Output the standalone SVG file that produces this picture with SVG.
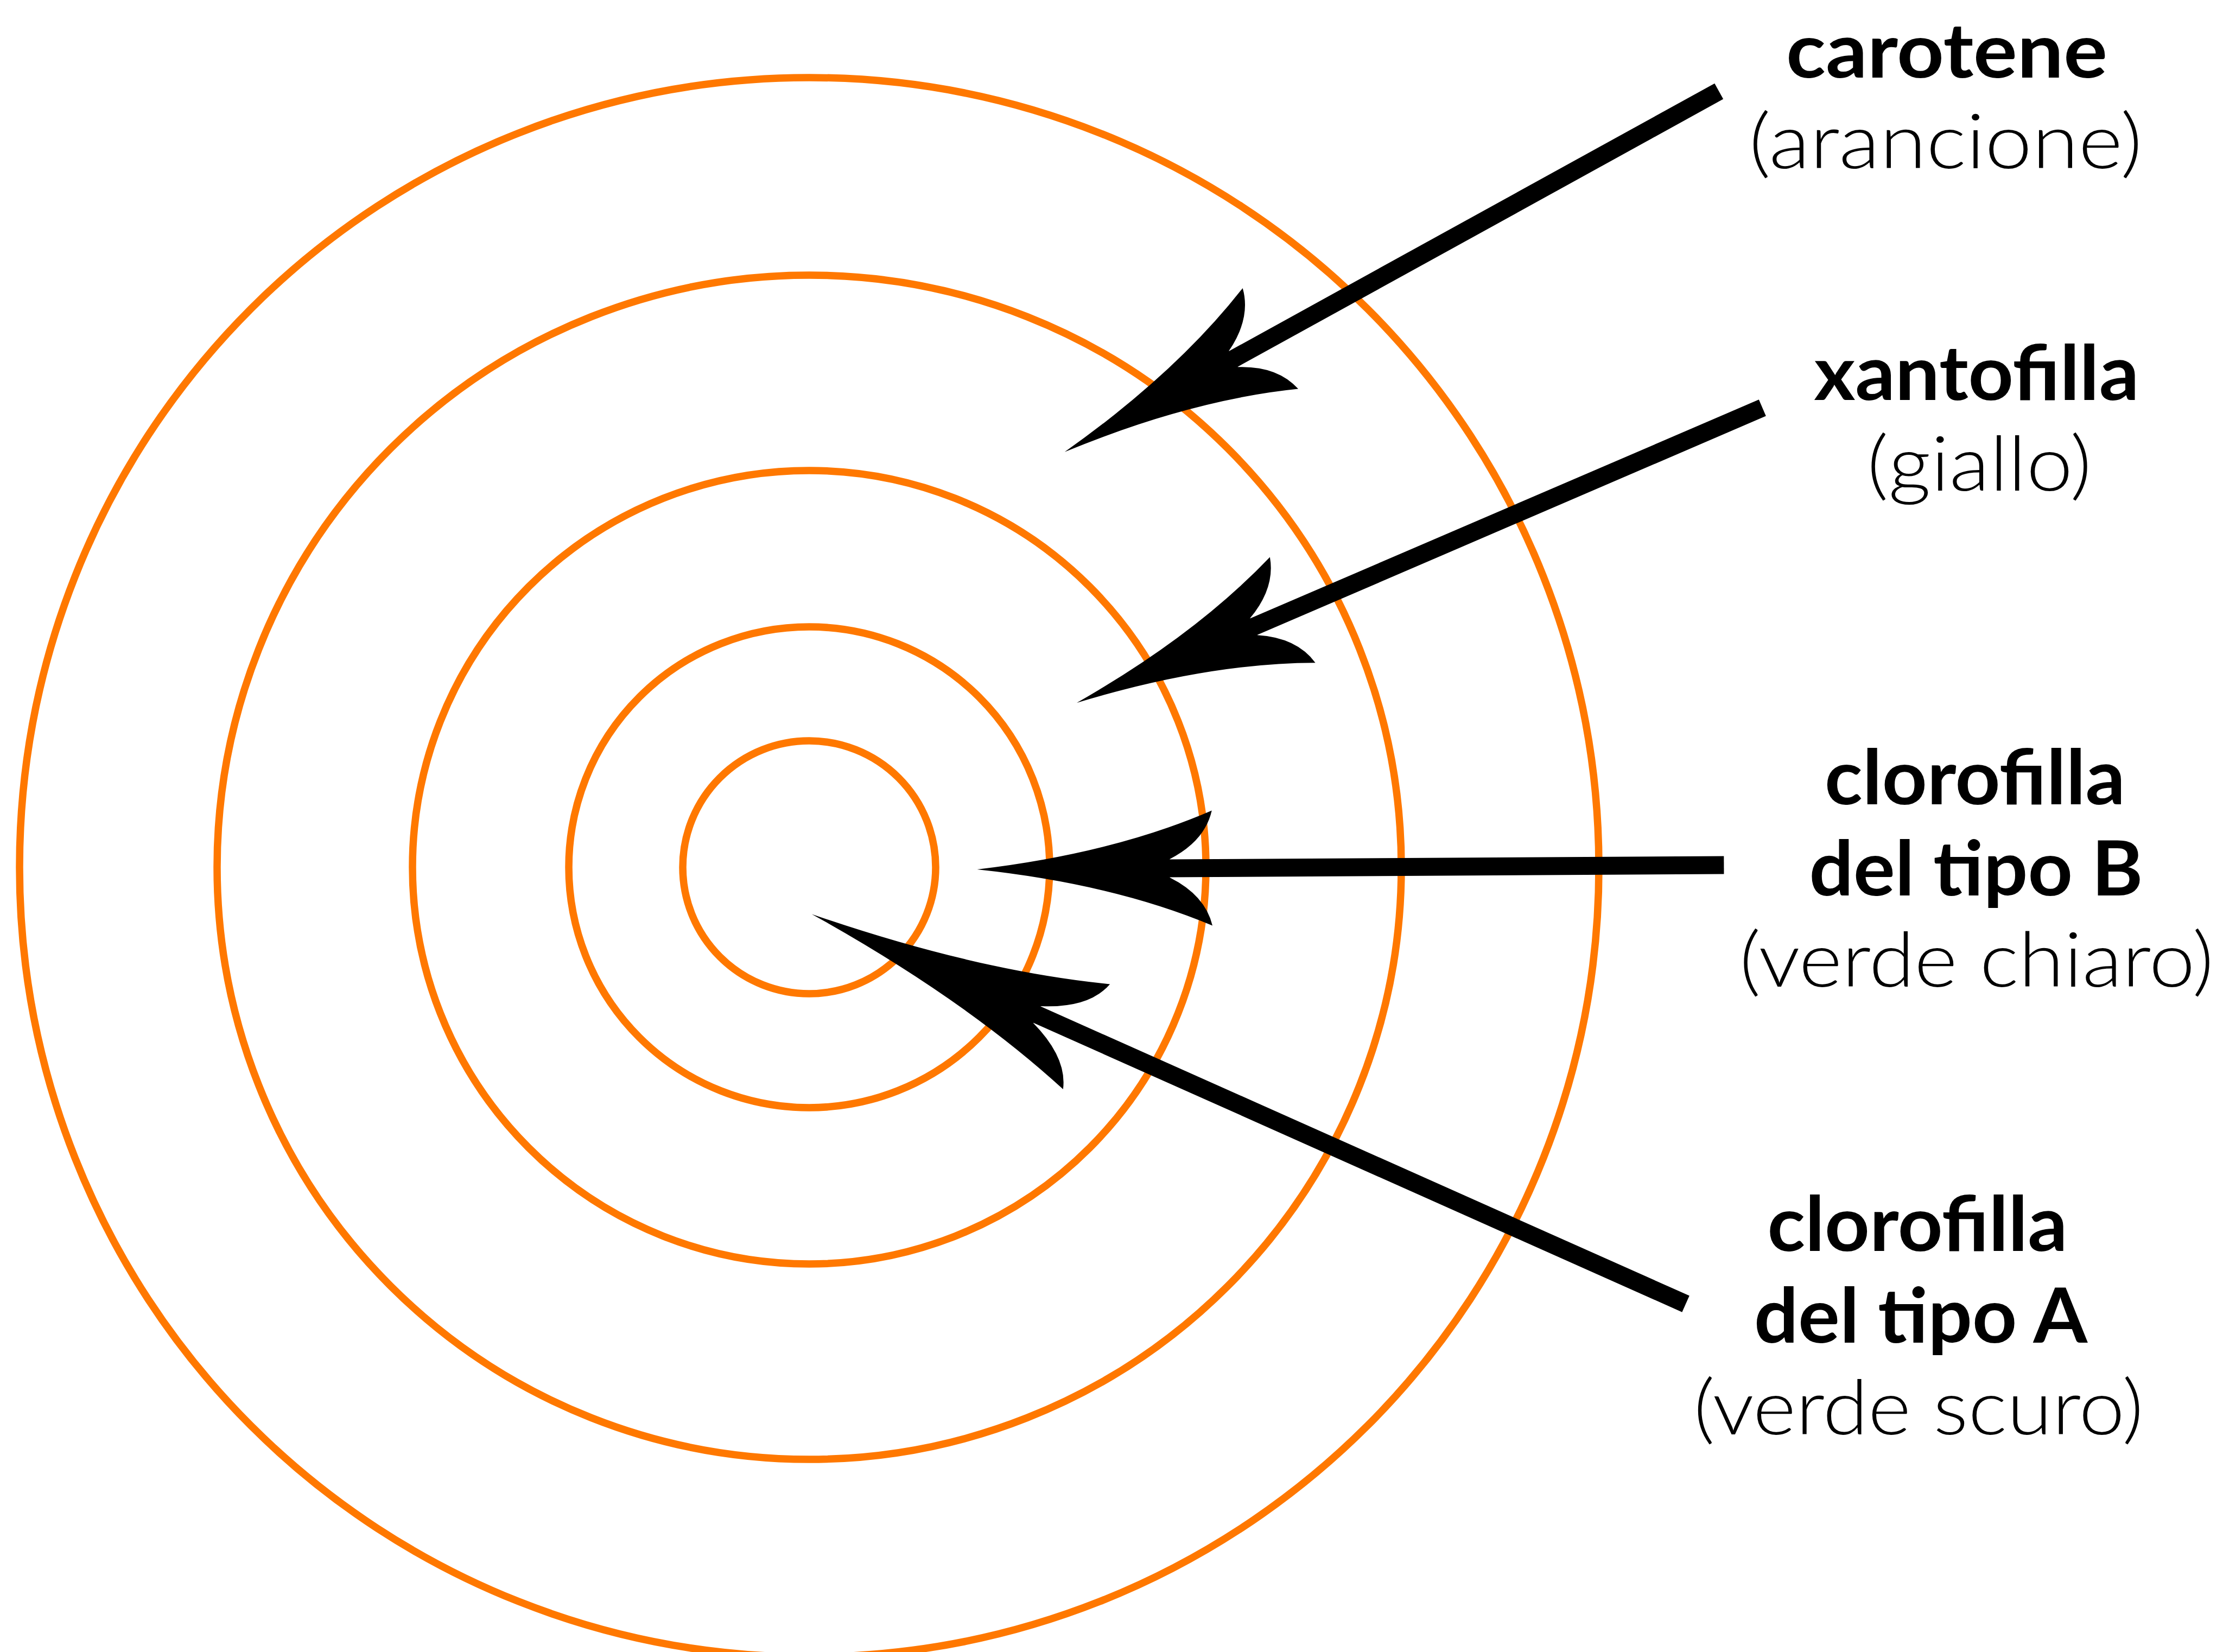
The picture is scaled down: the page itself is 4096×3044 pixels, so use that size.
<svg xmlns="http://www.w3.org/2000/svg" xmlns:xlink="http://www.w3.org/1999/xlink" width="4096" height="3044" viewBox="0 0 4096 3044">
  <style>
    .ring { fill: none; stroke: #ff7800; stroke-width: 13.5; }
    .shaft { stroke: #000; stroke-width: 33; stroke-linecap: butt; fill: none; }
    .head { fill: #000; stroke: none; }
    .lbl { font-family: Lato, "Liberation Sans", "DejaVu Sans", sans-serif; font-size: 140px; fill: #000; text-anchor: middle; }
    .b { font-weight: 700; }
    .l { font-weight: 300; }
  </style>
  <defs>
    <path id="head" class="head" d="M0,0 Q250,-28 433,-106 Q420,-50 355,-17 L355,17 Q420,50 433,106 Q250,28 0,0 Z"/>
  </defs>
  <rect x="0" y="0" width="4096" height="3044" fill="#fff"/>

  <g id="rings">
    <circle id="ring5" class="ring" cx="1491" cy="1598" r="1455"/>
    <circle id="ring4" class="ring" cx="1491" cy="1598" r="1091"/>
    <circle id="ring3" class="ring" cx="1491" cy="1598" r="731"/>
    <circle id="ring2" class="ring" cx="1491" cy="1598" r="443"/>
    <circle id="ring1" class="ring" cx="1491" cy="1598" r="233"/>
  </g>

  <g id="connectors">
    <g id="arrow-carotene" transform="translate(1961.7,832.8) rotate(-28.87)">
      <line class="shaft" x1="300" y1="0" x2="1376.6" y2="0"/>
      <use xlink:href="#head" href="#head"/>
    </g>
    <g id="arrow-xantofilla" transform="translate(1984,1295) rotate(-23.28)">
      <line class="shaft" x1="300" y1="0" x2="1375.3" y2="0"/>
      <use xlink:href="#head" href="#head"/>
    </g>
    <g id="arrow-clorofillaB" transform="translate(1800.4,1602) rotate(-0.33)">
      <line class="shaft" x1="300" y1="0" x2="1376" y2="0"/>
      <use xlink:href="#head" href="#head"/>
    </g>
    <g id="arrow-clorofillaA" transform="translate(1495.8,1684.4) rotate(24.04)">
      <line class="shaft" x1="400" y1="0" x2="1763.2" y2="0"/>
      <use xlink:href="#head" href="#head" transform="scale(1.28,1)"/>
    </g>
  </g>

  <g id="label-carotene">
    <text class="lbl b" x="3587" y="143" textLength="592" lengthAdjust="spacingAndGlyphs">carotene</text>
    <text class="lbl l" x="3585" y="310" textLength="725" lengthAdjust="spacingAndGlyphs">(arancione)</text>
  </g>
  <g id="label-xantofilla">
    <text class="lbl b" x="3642" y="737" textLength="599" lengthAdjust="spacingAndGlyphs">xantofilla</text>
    <text class="lbl l" x="3647" y="904" textLength="414" lengthAdjust="spacingAndGlyphs">(giallo)</text>
  </g>
  <g id="label-clorofillaB">
    <text class="lbl b" x="3639" y="1482" textLength="554" lengthAdjust="spacingAndGlyphs">clorofilla</text>
    <text class="lbl b" x="3641" y="1650" textLength="615" lengthAdjust="spacingAndGlyphs">del tipo B</text>
    <text class="lbl l" x="3642" y="1818" textLength="874" lengthAdjust="spacingAndGlyphs">(verde chiaro)</text>
  </g>
  <g id="label-clorofillaA">
    <text class="lbl b" x="3533" y="2305" textLength="553" lengthAdjust="spacingAndGlyphs">clorofilla</text>
    <text class="lbl b" x="3539" y="2474" textLength="614" lengthAdjust="spacingAndGlyphs">del tipo A</text>
    <text class="lbl l" x="3535" y="2643" textLength="829" lengthAdjust="spacingAndGlyphs">(verde scuro)</text>
  </g>
</svg>
